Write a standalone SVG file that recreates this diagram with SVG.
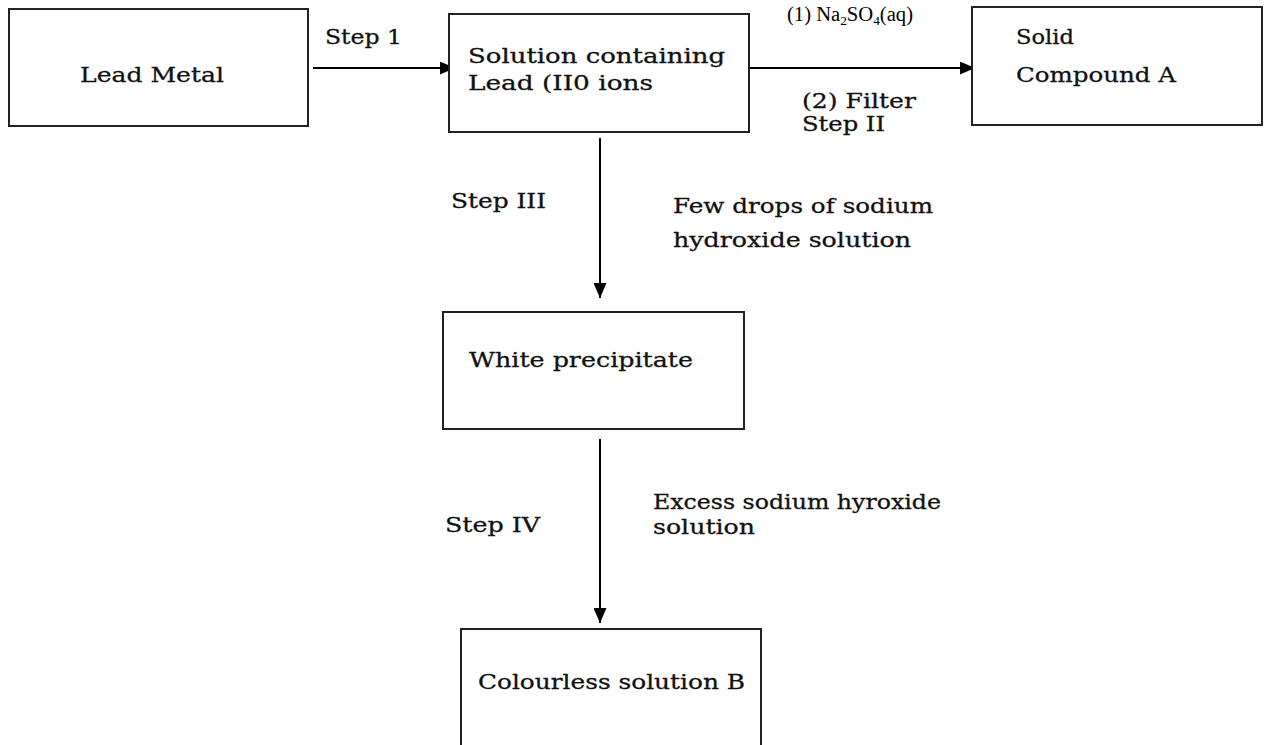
<svg xmlns="http://www.w3.org/2000/svg" width="1278" height="745" viewBox="0 0 1278 745">
<defs>
<marker id="ah" markerUnits="userSpaceOnUse" markerWidth="15" markerHeight="13" refX="15" refY="6.5" orient="auto">
<path d="M0,0 L15,6.5 L0,13 Z" fill="#000"/>
</marker>
<style>
.box{fill:#fff;stroke:#222;stroke-width:2}
.t{font-family:"DejaVu Serif","Liberation Serif",serif;font-size:21px;fill:#111;stroke:#111;stroke-width:0.3}
.s{font-family:"Liberation Serif","Times New Roman",serif;font-size:20px;fill:#000}
.c{stroke:#000;stroke-width:2;fill:none;marker-end:url(#ah)}
</style>
</defs>
<rect width="1278" height="745" fill="#fff"/>
<g id="connectors">
<line class="c" x1="313" y1="68" x2="455" y2="68"/>
<line class="c" x1="745" y1="68" x2="975" y2="68"/>
<line class="c" x1="600" y1="138" x2="600" y2="298"/>
<line class="c" x1="600" y1="439" x2="600" y2="623"/>
</g>
<g id="labels">
<text class="t" x="325" y="44" textLength="77" lengthAdjust="spacingAndGlyphs">Step 1</text>
<text class="s" x="787" y="21" textLength="126" lengthAdjust="spacingAndGlyphs">(1) Na<tspan font-size="13" dy="4">2</tspan><tspan dy="-4">SO</tspan><tspan font-size="13" dy="4">4</tspan><tspan dy="-4">(aq)</tspan></text>
<text class="t" x="802" y="108" textLength="114" lengthAdjust="spacingAndGlyphs">(2) Filter</text>
<text class="t" x="802" y="131" textLength="83" lengthAdjust="spacingAndGlyphs">Step II</text>
<text class="t" x="451" y="208" textLength="95" lengthAdjust="spacingAndGlyphs">Step III</text>
<text class="t" x="673" y="213" textLength="260" lengthAdjust="spacingAndGlyphs">Few drops of sodium</text>
<text class="t" x="673" y="247" textLength="238" lengthAdjust="spacingAndGlyphs">hydroxide solution</text>
<text class="t" x="445" y="532" textLength="95" lengthAdjust="spacingAndGlyphs">Step IV</text>
<text class="t" x="653" y="509" textLength="288" lengthAdjust="spacingAndGlyphs">Excess sodium hyroxide</text>
<text class="t" x="653" y="534" textLength="102" lengthAdjust="spacingAndGlyphs">solution</text>
</g>
<g id="node-lead-metal">
<rect class="box" x="9" y="9" width="299" height="117"/>
<text class="t" x="80" y="82" textLength="144" lengthAdjust="spacingAndGlyphs">Lead Metal</text>
</g>
<g id="node-solution">
<rect class="box" x="449" y="14" width="300" height="118"/>
<text class="t" x="468" y="63" textLength="257" lengthAdjust="spacingAndGlyphs">Solution containing</text>
<text class="t" x="468" y="90" textLength="185" lengthAdjust="spacingAndGlyphs">Lead (II0 ions</text>
</g>
<g id="node-compound-a">
<rect class="box" x="972" y="7" width="290" height="118"/>
<text class="t" x="1016" y="44" textLength="58" lengthAdjust="spacingAndGlyphs">Solid</text>
<text class="t" x="1016" y="82" textLength="160" lengthAdjust="spacingAndGlyphs">Compound A</text>
</g>
<g id="node-white-precipitate">
<rect class="box" x="443" y="312" width="301" height="117"/>
<text class="t" x="469" y="367" textLength="224" lengthAdjust="spacingAndGlyphs">White precipitate</text>
</g>
<g id="node-solution-b">
<rect class="box" x="461" y="629" width="300" height="130"/>
<text class="t" x="478" y="689" textLength="267" lengthAdjust="spacingAndGlyphs">Colourless solution B</text>
</g>
</svg>
